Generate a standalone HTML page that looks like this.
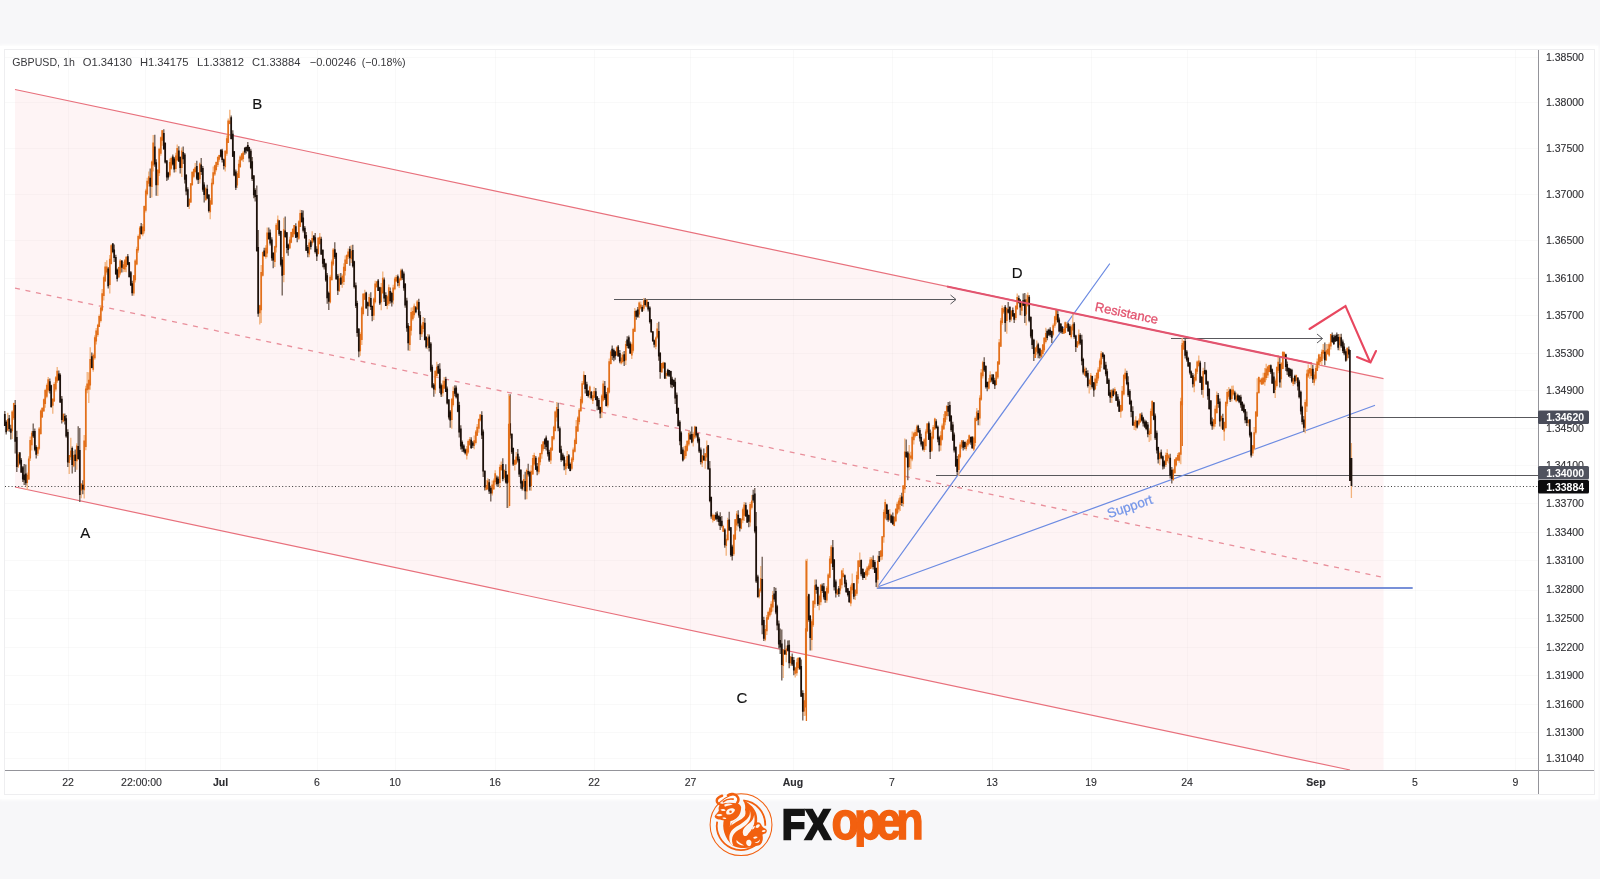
<!DOCTYPE html>
<html><head><meta charset="utf-8"><title>GBPUSD 1h</title>
<style>
html,body{margin:0;padding:0;}
body{width:1600px;height:879px;overflow:hidden;background:#f7f7f9;font-family:"Liberation Sans",sans-serif;position:relative;}
.card{position:absolute;left:0;top:46px;width:1598px;height:753px;background:#fff;box-shadow:0 0 3px 1px rgba(255,255,255,.9);}
.frame{position:absolute;left:4px;top:49px;width:1589px;height:744px;border:1px solid #eeeef0;background:#fff;}
svg{position:absolute;left:0;top:0;will-change:transform;}
text{font-family:"Liberation Sans",sans-serif;}
</style></head><body>
<div class="card"></div><div class="frame"></div>
<svg width="1600" height="879" viewBox="0 0 1600 879">
<g stroke="#000" stroke-opacity="0.024" stroke-width="1" fill="none"><path d="M5 57.5H1538"/><path d="M5 102.5H1538"/><path d="M5 148.5H1538"/><path d="M5 194.5H1538"/><path d="M5 240.5H1538"/><path d="M5 278.5H1538"/><path d="M5 315.5H1538"/><path d="M5 353.5H1538"/><path d="M5 390.5H1538"/><path d="M5 428.5H1538"/><path d="M5 465.5H1538"/><path d="M5 503.5H1538"/><path d="M5 532.5H1538"/><path d="M5 560.5H1538"/><path d="M5 590.5H1538"/><path d="M5 618.5H1538"/><path d="M5 647.5H1538"/><path d="M5 675.5H1538"/><path d="M5 704.5H1538"/><path d="M5 732.5H1538"/><path d="M5 758.5H1538"/><path d="M68.5 50V770"/><path d="M145.5 50V770"/><path d="M220.5 50V770"/><path d="M317.5 50V770"/><path d="M395.5 50V770"/><path d="M495.5 50V770"/><path d="M594.5 50V770"/><path d="M690.5 50V770"/><path d="M793.5 50V770"/><path d="M892.5 50V770"/><path d="M992.5 50V770"/><path d="M1091.5 50V770"/><path d="M1187.5 50V770"/><path d="M1316.5 50V770"/><path d="M1415.5 50V770"/><path d="M1515.5 50V770"/></g>
<!-- channel -->
<polygon points="15,89.5 1383.5,378.7 1383.5,770 1350,770 15,487" fill="#f23645" fill-opacity="0.055"/>
<path d="M15 89.5L1383.5 378.7" stroke="#e8707c" stroke-width="1.2" fill="none"/>
<path d="M15 487L1350 770" stroke="#e8707c" stroke-width="1.2" fill="none"/>
<path d="M15 288.2L1383.5 577.4" stroke="#e98f9b" stroke-width="1.3" stroke-dasharray="5 5.7" fill="none"/>
<!-- price dotted line -->
<path d="M5 486.5H1538" stroke="#3a3a3a" stroke-width="1" stroke-dasharray="1 2.3" fill="none"/>
<!-- horizontal levels -->
<g stroke="#58585c" stroke-width="1" fill="none">
<path d="M936 475.5H1538"/><path d="M1347.5 417.5H1538"/>
<path d="M614 299.5H956"/><path d="M950.5 295L956 299.5L950.5 304"/>
<path d="M1171 338.5H1322.5"/><path d="M1317 334L1322.5 338.5L1317 343"/>
</g>
<!-- blue lines -->
<g stroke="#6c8be2" stroke-width="1.25" fill="none" stroke-linecap="round">
<path d="M877.5 587L1109.5 264"/><path d="M877.5 587L1374.5 405.5"/><path d="M877.5 588H1412" stroke="#7890d8" stroke-width="1.9"/>
</g>
<g fill="none"><path d="M7.8 412.7V431.3M12.2 410.2V438.9M13.8 402.7V420.0M18.2 451.9V467.9M27.2 472.4V490.0M28.8 456.2V480.1M30.2 436.6V461.0M31.8 431.0V450.4M37.8 446.7V456.1M39.2 427.1V450.2M40.8 409.6V434.7M42.2 407.4V417.7M43.8 398.4V411.6M45.2 388.8V407.8M46.8 383.4V398.3M48.2 377.1V392.5M52.8 398.3V413.8M54.2 382.3V401.7M55.8 376.0V391.5M57.2 367.1V383.0M63.2 413.1V422.3M69.2 455.0V474.0M70.8 437.8V460.1M73.8 451.0V467.2M76.8 443.2V469.7M81.2 483.3V498.3M84.2 435.0V498.6M85.8 385.8V450.2M87.2 371.9V393.2M88.8 372.2V402.9M90.2 347.3V389.7M93.2 353.2V371.8M94.8 335.2V359.7M96.2 327.9V344.4M97.8 323.8V336.7M99.2 314.4V327.1M100.8 305.2V322.4M102.2 289.0V311.4M103.8 275.5V300.5M105.2 262.0V281.5M106.8 260.2V274.8M109.8 255.0V293.5M111.2 244.2V264.4M118.8 266.7V277.6M120.2 258.9V275.2M123.2 261.7V272.3M124.8 259.0V272.1M126.2 256.2V272.3M133.8 274.9V295.8M135.2 259.2V282.4M136.8 246.8V265.2M138.2 234.4V252.8M139.8 226.0V239.4M142.8 224.1V236.2M144.2 205.4V233.6M145.8 188.8V212.4M147.2 177.8V195.5M148.8 171.5V186.4M151.8 160.5V197.6M153.2 135.0V171.6M157.8 169.2V196.0M159.2 147.7V176.1M160.8 136.6V155.8M162.2 129.9V145.7M169.8 158.4V177.2M171.2 156.5V169.8M175.8 152.7V172.3M177.2 144.5V161.3M181.8 147.6V176.9M189.2 198.1V209.0M190.8 182.9V203.1M192.2 171.0V185.9M193.8 168.6V178.2M195.2 163.1V173.2M199.8 162.4V183.4M205.8 186.7V200.9M210.2 197.9V219.2M211.8 178.6V205.1M213.2 166.5V185.3M214.8 164.8V176.0M216.2 161.5V171.4M217.8 156.3V167.0M219.2 154.7V161.8M225.2 150.3V171.4M226.8 135.4V155.8M228.2 118.5V143.1M229.8 109.7V124.3M237.2 170.9V188.1M238.8 159.7V178.1M240.2 155.2V168.1M241.8 152.9V160.5M243.2 150.8V162.1M259.8 304.7V324.6M261.2 265.1V322.9M262.8 251.5V276.6M265.8 245.3V258.7M267.2 227.6V257.3M274.8 245.7V267.1M276.2 223.1V252.4M277.8 215.6V230.1M283.8 217.8V282.3M289.8 236.7V248.9M291.2 231.7V243.2M292.8 228.5V237.7M294.2 224.9V235.3M298.8 220.3V239.9M300.2 209.8V227.1M309.2 239.0V257.2M312.2 231.3V245.5M318.2 237.1V254.5M319.8 233.1V244.7M330.2 274.7V303.6M331.8 259.6V280.3M333.2 247.9V266.0M339.2 273.4V291.8M342.2 274.2V287.8M343.8 263.2V285.1M345.2 255.5V275.6M346.8 254.8V264.0M348.2 248.4V259.1M351.2 245.3V262.9M360.2 332.3V355.7M361.8 306.2V345.0M363.2 292.9V315.4M364.8 289.8V300.0M369.2 293.7V307.2M373.8 297.5V320.1M375.2 280.8V303.5M376.8 280.9V287.4M381.2 283.1V310.2M382.8 271.6V293.8M387.2 294.8V309.2M388.8 284.5V305.8M393.2 284.8V304.3M394.8 276.7V290.3M396.2 274.9V281.4M399.2 277.6V287.9M400.8 268.7V280.8M409.8 325.9V350.9M411.2 307.4V335.6M412.8 307.3V320.8M414.2 303.4V317.7M417.2 299.9V309.5M421.8 323.6V337.0M423.2 316.9V332.2M427.8 333.9V349.2M435.2 370.6V393.7M436.8 361.7V378.1M442.8 380.5V396.5M444.2 377.1V389.0M451.8 398.2V428.8M453.2 386.5V406.5M466.8 446.1V459.6M468.2 439.5V453.7M469.8 436.9V445.6M474.2 435.6V449.2M475.8 429.9V444.4M477.2 424.0V435.8M478.8 418.4V432.7M480.2 414.1V421.5M486.2 480.0V490.3M487.8 478.2V490.0M492.2 480.5V495.5M493.8 478.5V490.1M495.2 470.3V484.7M499.8 464.6V488.0M501.2 461.5V470.9M504.2 469.8V480.2M508.8 394.1V507.7M514.8 459.2V470.4M516.2 452.1V464.7M523.8 474.5V490.6M526.8 468.6V499.2M531.2 465.3V490.8M532.8 455.1V474.7M534.2 452.8V465.8M538.8 456.5V474.2M540.2 452.7V465.2M541.8 444.1V458.7M543.2 441.0V451.2M550.8 447.3V464.1M552.2 436.2V450.8M553.8 425.8V440.5M555.2 410.5V431.5M556.8 402.0V421.5M565.8 459.8V475.0M567.2 450.9V468.2M571.8 457.0V470.2M573.2 447.5V462.1M574.8 438.6V452.6M576.2 420.0V444.2M577.8 416.2V432.0M579.2 408.1V424.4M580.8 396.4V411.7M582.2 381.1V404.2M583.8 371.3V384.7M589.8 385.5V398.4M592.8 391.6V404.0M594.2 386.7V398.3M601.8 394.3V417.9M603.2 380.5V401.6M607.8 387.7V407.6M609.2 358.4V393.4M610.8 350.0V364.4M616.8 346.3V355.8M621.2 354.3V364.4M622.8 352.1V363.6M625.8 341.0V365.1M631.8 342.5V358.9M633.2 327.8V352.7M634.8 308.0V332.1M639.2 301.5V318.1M640.8 301.4V309.6M643.8 298.0V310.7M646.8 299.8V307.6M655.8 336.4V349.3M657.2 323.1V338.7M661.8 362.9V373.1M663.2 361.8V368.8M666.2 371.3V379.0M684.2 445.9V459.9M685.8 444.4V458.5M687.2 440.5V451.5M688.8 430.5V446.3M693.2 431.7V446.5M694.8 425.7V439.0M702.2 455.0V467.0M705.2 452.9V468.8M706.8 440.5V461.3M712.8 513.5V522.5M714.2 514.3V520.8M723.2 524.7V532.1M726.2 534.6V555.7M727.8 517.8V541.2M733.8 534.3V556.0M735.2 518.9V539.9M736.8 510.9V530.5M741.2 517.9V529.2M742.8 507.5V523.3M744.2 501.9V521.0M750.2 502.0V526.5M751.8 495.1V509.4M759.2 588.0V598.5M760.8 566.0V592.8M765.2 624.9V641.2M766.8 614.9V635.1M768.2 610.8V619.7M769.8 606.9V617.2M771.2 601.3V614.8M772.8 591.0V611.5M783.2 648.9V678.0M786.2 645.4V662.2M790.8 655.9V666.1M795.2 666.8V677.5M796.8 658.5V675.8M798.2 656.9V669.8M804.2 693.0V715.9M805.8 559.6V715.7M807.2 558.8V632.1M811.8 619.3V650.4M813.2 600.0V627.0M814.8 579.6V607.8M819.2 594.6V610.3M820.8 584.0V605.2M826.8 586.1V602.7M828.2 573.2V593.9M829.8 556.1V578.3M831.2 545.0V563.4M837.2 588.8V594.9M840.2 578.6V594.2M841.8 569.7V588.6M843.2 567.9V577.4M850.8 584.8V606.3M852.2 573.4V593.8M855.2 589.1V600.0M856.8 571.4V595.7M858.2 560.0V583.4M859.8 552.4V567.3M865.8 569.2V579.9M867.2 566.0V576.8M868.8 563.5V574.8M870.2 557.1V569.1M871.8 557.1V569.0M877.8 555.5V587.8M880.8 550.2V560.6M882.2 535.9V559.8M883.8 509.5V542.7M885.2 499.3V519.8M889.8 509.1V520.4M894.2 516.3V526.2M895.8 508.3V522.3M897.2 501.8V514.6M898.8 498.3V512.5M900.2 494.9V511.1M903.2 485.1V506.7M904.8 438.4V493.0M909.2 445.1V470.3M910.8 451.8V469.0M912.2 431.5V461.3M913.8 431.7V444.4M915.2 429.4V437.6M916.8 424.7V436.1M924.2 438.2V452.0M925.8 429.3V449.9M927.2 423.0V433.9M931.8 431.5V452.0M933.2 425.0V439.6M934.8 417.7V429.7M940.8 431.3V450.8M942.2 423.5V440.5M943.8 414.0V429.9M945.2 411.2V425.2M946.8 405.1V419.7M958.8 454.3V476.1M960.2 442.3V458.4M961.8 440.0V449.1M966.2 440.7V450.7M967.8 439.4V446.7M969.2 434.5V444.2M973.8 436.2V450.9M975.2 416.6V446.2M976.8 408.0V421.3M979.8 395.3V425.6M981.2 369.1V400.8M982.8 360.7V378.4M988.8 377.9V389.5M990.2 371.3V383.0M996.2 371.1V385.3M997.8 360.9V379.0M999.2 338.9V364.7M1000.8 318.0V346.8M1002.2 305.4V324.7M1003.8 307.0V314.0M1006.8 307.8V333.8M1011.2 310.0V321.2M1015.8 304.9V320.3M1017.2 293.4V309.7M1021.8 302.3V315.7M1026.2 294.6V325.4M1027.8 292.6V306.8M1035.2 347.3V358.1M1036.8 340.6V355.2M1041.2 349.5V358.3M1042.8 344.0V356.2M1044.2 337.1V351.9M1045.8 327.8V343.6M1053.2 323.4V336.2M1054.8 315.8V327.8M1056.2 308.8V324.2M1063.8 327.9V334.1M1065.2 321.6V333.3M1066.8 322.1V328.2M1071.2 324.8V338.5M1072.8 312.2V334.4M1077.2 341.2V347.9M1078.8 329.5V345.7M1084.8 366.5V375.9M1089.2 378.4V393.4M1090.8 372.9V389.7M1095.2 374.9V390.1M1096.8 372.8V386.1M1098.2 367.3V380.7M1099.8 358.4V372.0M1101.2 351.0V368.0M1111.8 388.9V403.0M1114.8 387.3V394.9M1120.8 404.8V417.8M1122.2 386.0V411.3M1123.8 374.1V395.4M1125.2 368.5V380.6M1134.2 419.8V430.1M1135.8 416.3V430.5M1138.8 418.4V425.7M1140.2 413.0V422.4M1149.2 428.3V442.1M1150.8 408.4V440.5M1152.2 400.2V416.0M1159.8 451.5V465.3M1165.8 452.6V466.9M1167.2 449.3V462.5M1168.8 454.0V463.4M1173.2 468.6V481.1M1174.8 459.2V473.9M1176.2 457.1V466.4M1177.8 452.9V460.7M1179.2 452.3V462.8M1180.8 397.7V464.2M1182.2 338.0V406.3M1183.8 340.2V349.9M1194.2 374.2V392.3M1195.8 368.0V381.6M1197.2 360.5V374.0M1198.8 355.5V367.2M1203.2 367.8V397.8M1213.8 418.9V429.2M1215.2 405.4V426.8M1216.8 391.4V413.8M1221.2 415.7V428.7M1224.2 421.6V440.8M1225.8 401.2V429.3M1227.2 389.1V406.2M1228.8 387.0V398.7M1231.8 385.8V401.4M1233.2 385.5V395.8M1236.2 392.4V402.3M1248.2 419.1V426.4M1252.8 444.9V455.9M1254.2 427.1V450.3M1255.8 411.2V434.5M1257.2 378.3V416.8M1258.8 376.5V393.2M1260.2 378.3V384.3M1261.8 377.4V385.1M1263.2 372.7V384.8M1264.8 367.9V385.7M1266.2 363.8V380.2M1267.8 365.8V377.9M1269.2 364.8V372.3M1275.2 378.6V397.9M1276.8 366.3V387.5M1278.2 355.3V373.3M1281.2 361.9V387.8M1282.8 351.5V369.2M1284.2 351.4V357.8M1293.2 377.4V386.0M1296.2 374.4V382.9M1305.2 399.4V433.3M1306.8 369.7V412.1M1308.2 364.5V378.0M1309.8 368.0V379.1M1311.2 362.3V378.2M1314.2 371.7V385.5M1315.8 365.4V380.6M1317.2 358.4V371.1M1318.8 353.7V368.3M1320.2 354.1V363.7M1321.8 349.5V365.0M1323.2 343.9V358.7M1326.2 344.0V360.8M1327.8 343.9V355.1M1329.2 342.5V356.8M1330.8 334.0V349.5M1339.8 334.0V350.4M1347.2 347.5V360.5M1351.4 443.0V498.0" stroke="#f2b27c" stroke-width="1.3"/><path d="M4.8 411.0V426.1M6.2 420.2V434.4M9.2 415.1V431.8M10.8 424.7V439.5M15.2 400.0V453.6M16.8 430.8V471.9M19.8 452.0V464.7M21.2 458.1V473.0M22.8 466.0V481.9M24.2 463.9V485.0M25.8 464.6V485.4M33.2 423.5V437.9M34.8 428.6V451.3M36.2 445.2V458.4M49.8 378.6V393.6M51.2 384.8V407.8M58.8 370.5V381.0M60.2 373.2V402.9M61.8 396.1V423.6M64.8 413.6V424.4M66.2 414.9V437.7M67.8 429.3V467.0M72.2 446.6V473.6M75.2 449.5V472.1M78.2 426.2V459.8M79.8 427.9V502.1M82.8 480.3V494.3M91.8 352.6V368.2M108.2 267.1V288.6M112.8 243.0V253.3M114.2 244.6V262.1M115.8 254.7V274.6M117.2 268.5V281.6M121.8 260.2V272.6M127.8 254.1V265.2M129.2 261.9V277.3M130.8 270.9V286.0M132.2 280.7V295.8M141.2 223.0V234.7M150.2 168.5V198.0M154.8 134.7V166.8M156.2 159.3V195.7M163.8 129.2V149.7M165.2 142.6V163.5M166.8 160.1V181.0M168.2 171.7V179.7M172.8 154.6V165.4M174.2 157.1V172.5M178.8 146.3V162.0M180.2 156.7V173.6M183.2 146.4V163.9M184.8 153.0V183.6M186.2 174.1V195.3M187.8 187.2V206.9M196.8 160.8V180.3M198.2 172.1V184.1M201.2 157.9V174.9M202.8 166.1V191.8M204.2 182.3V202.4M207.2 184.8V199.2M208.8 194.0V212.5M220.8 149.0V157.5M222.2 148.8V162.6M223.8 158.5V169.4M231.2 115.4V139.6M232.8 130.3V157.1M234.2 150.9V176.2M235.8 169.6V190.0M244.8 147.1V154.8M246.2 146.6V153.5M247.8 142.0V151.8M249.2 146.8V162.3M250.8 148.8V169.2M252.2 156.9V181.0M253.8 175.1V198.2M255.2 188.2V201.6M256.8 185.5V251.5M258.2 230.1V316.7M264.2 247.7V256.6M268.8 227.5V239.4M270.2 229.6V245.6M271.8 237.3V260.8M273.2 251.9V268.2M279.2 220.1V235.9M280.8 230.8V266.5M282.2 257.0V295.5M285.2 216.4V237.4M286.8 232.0V253.3M288.2 243.5V255.8M295.8 223.3V238.0M297.2 232.2V242.2M301.8 210.1V222.8M303.2 210.5V232.4M304.8 226.1V239.1M306.2 232.0V251.1M307.8 245.0V257.3M310.8 240.1V249.5M313.8 235.1V242.4M315.2 233.1V253.6M316.8 246.3V261.0M321.2 236.7V254.9M322.8 249.5V267.3M324.2 258.6V269.4M325.8 262.8V281.7M327.2 273.0V303.8M328.8 291.6V310.0M334.8 242.2V258.9M336.2 252.5V279.8M337.8 273.9V295.1M340.8 273.0V285.0M349.8 246.3V265.8M352.8 244.8V267.6M354.2 260.7V288.6M355.8 282.6V308.1M357.2 300.8V336.7M358.8 328.0V357.2M366.2 291.8V308.6M367.8 301.5V315.9M370.8 292.2V310.0M372.2 305.5V321.2M378.2 279.0V291.0M379.8 286.7V304.9M384.2 277.5V301.9M385.8 292.2V306.1M390.2 287.6V303.4M391.8 291.8V306.4M397.8 274.6V286.3M402.2 268.7V279.9M403.8 271.5V290.7M405.2 283.0V307.7M406.8 297.7V331.7M408.2 323.0V350.6M415.8 306.0V313.3M418.8 298.7V317.8M420.2 311.2V340.0M424.8 318.0V340.4M426.2 336.4V348.6M429.2 334.6V351.4M430.8 342.0V372.1M432.2 364.8V388.3M433.8 383.1V396.7M438.2 364.0V374.0M439.8 363.2V392.9M441.2 383.5V397.0M445.8 376.7V392.1M447.2 386.4V404.5M448.8 399.1V419.5M450.2 409.9V427.8M454.8 385.3V396.3M456.2 385.4V398.6M457.8 392.7V412.3M459.2 401.7V437.6M460.8 425.2V449.5M462.2 440.5V452.1M463.8 444.2V452.6M465.2 448.6V454.4M471.2 437.3V448.9M472.8 441.1V448.0M481.8 411.2V439.1M483.2 429.5V477.0M484.8 470.6V490.4M489.2 479.1V494.1M490.8 485.8V501.4M496.8 475.4V485.8M498.2 476.5V486.9M502.8 458.3V481.2M505.8 464.3V483.6M507.2 474.4V507.9M510.2 394.2V438.4M511.8 433.5V454.0M513.2 447.6V466.0M517.8 449.0V462.6M519.2 456.6V477.1M520.8 469.2V488.7M522.2 480.5V490.6M525.2 471.7V499.4M528.2 463.7V476.6M529.8 470.8V490.4M535.8 455.9V469.9M537.2 463.0V475.3M544.8 438.2V449.0M546.2 435.5V450.4M547.8 440.2V456.6M549.2 449.8V462.1M558.2 402.7V431.2M559.8 426.5V453.1M561.2 445.8V461.7M562.8 452.7V460.7M564.2 455.6V470.2M568.8 454.1V468.9M570.2 462.6V471.3M585.2 374.9V393.6M586.8 381.7V396.1M588.2 390.2V397.4M591.2 391.1V399.6M595.8 388.1V400.3M597.2 396.1V410.2M598.8 397.9V409.8M600.2 406.7V418.2M604.8 381.1V399.9M606.2 391.9V406.6M612.2 345.6V359.9M613.8 348.6V361.3M615.2 350.8V359.7M618.2 345.0V357.0M619.8 349.9V363.3M624.2 350.9V366.0M627.2 336.3V348.3M628.8 335.6V349.0M630.2 341.4V354.1M636.2 309.8V319.8M637.8 306.9V317.8M642.2 305.2V311.9M645.2 298.0V306.6M648.2 301.7V311.5M649.8 306.3V323.6M651.2 318.9V333.1M652.8 331.2V341.9M654.2 339.6V347.5M658.8 321.7V360.8M660.2 351.9V378.8M664.8 362.1V379.0M667.8 368.7V376.6M669.2 370.0V376.9M670.8 370.8V387.5M672.2 376.7V388.3M673.8 379.7V386.9M675.2 377.8V404.1M676.8 392.6V414.1M678.2 407.6V426.6M679.8 420.2V445.3M681.2 431.2V454.2M682.8 447.2V461.5M690.2 431.5V439.6M691.8 426.5V443.3M696.2 426.7V437.4M697.8 433.1V443.3M699.2 437.2V453.0M700.8 447.4V464.6M703.8 448.4V460.5M708.2 444.9V469.8M709.8 460.9V502.2M711.2 496.5V518.7M715.8 512.3V520.0M717.2 511.3V521.7M718.8 515.3V525.4M720.2 512.3V530.1M721.8 516.1V527.5M724.8 528.2V547.8M729.2 511.7V530.7M730.8 527.0V556.8M732.2 544.8V560.4M738.2 510.3V526.6M739.8 517.9V531.6M745.8 502.5V516.5M747.2 509.2V523.1M748.8 514.5V527.3M753.2 489.8V502.8M754.8 488.1V533.2M756.2 512.0V582.9M757.8 574.8V597.7M762.2 556.8V634.2M763.8 616.7V641.0M774.2 586.9V601.8M775.8 587.8V614.3M777.2 604.8V630.2M778.8 620.5V648.5M780.2 628.5V653.9M781.8 629.4V680.5M784.8 639.5V655.0M787.8 640.6V651.2M789.2 640.3V668.3M792.2 653.4V666.0M793.8 657.1V675.3M799.8 657.3V670.0M801.2 659.4V696.8M802.8 690.3V720.4M808.8 593.8V621.7M810.2 615.1V650.4M816.2 579.6V593.7M817.8 586.5V605.9M822.2 583.6V592.9M823.8 583.0V599.5M825.2 591.3V602.8M832.8 540.1V569.9M834.2 559.0V590.5M835.8 579.6V597.4M838.8 586.0V596.8M844.8 574.5V587.3M846.2 579.7V593.1M847.8 588.0V596.6M849.2 590.8V603.1M853.8 583.0V599.3M861.2 559.4V576.2M862.8 568.2V580.0M864.2 572.2V578.0M873.2 555.4V569.4M874.8 560.1V573.1M876.2 567.6V586.9M879.2 551.1V562.1M886.8 503.7V520.3M888.2 509.6V521.8M891.2 514.4V523.2M892.8 512.4V524.4M901.8 492.7V506.0M906.2 439.5V457.7M907.8 451.2V480.2M918.2 424.8V432.7M919.8 428.1V441.6M921.2 433.7V446.6M922.8 441.0V450.5M928.8 421.5V440.0M930.2 429.4V458.9M936.2 419.2V428.6M937.8 425.4V442.2M939.2 435.7V451.5M948.2 402.1V416.3M949.8 401.4V421.9M951.2 415.6V432.1M952.8 421.7V440.9M954.2 432.5V452.4M955.8 446.7V466.9M957.2 455.9V475.3M963.2 440.1V450.6M964.8 441.4V449.3M970.8 436.5V444.7M972.2 436.1V448.7M978.2 410.2V425.3M984.2 357.2V371.9M985.8 365.3V388.4M987.2 381.4V391.3M991.8 374.3V382.2M993.2 374.2V384.2M994.8 377.7V389.1M1005.2 305.1V331.7M1008.2 302.1V313.4M1009.8 306.5V322.3M1012.8 307.6V316.5M1014.2 313.2V323.0M1018.8 295.5V303.5M1020.2 298.9V315.2M1023.2 293.6V306.0M1024.8 293.1V323.1M1029.2 295.0V322.2M1030.8 316.3V338.3M1032.2 329.3V349.0M1033.8 338.7V360.9M1038.2 342.7V358.3M1039.8 347.7V358.6M1047.2 329.4V340.2M1048.8 328.8V336.1M1050.2 327.3V336.8M1051.8 330.7V343.1M1057.8 309.1V322.8M1059.2 317.5V332.5M1060.8 322.9V333.0M1062.2 326.3V334.1M1068.2 322.4V331.9M1069.8 324.2V335.3M1074.2 322.1V338.8M1075.8 334.8V352.0M1080.2 333.2V345.1M1081.8 334.7V365.2M1083.2 357.8V374.6M1086.2 367.7V377.8M1087.8 370.2V387.4M1092.2 375.8V388.5M1093.8 382.2V396.7M1102.8 352.0V358.7M1104.2 354.6V369.9M1105.8 361.7V376.3M1107.2 368.8V384.0M1108.8 378.2V396.0M1110.2 389.8V402.8M1113.2 388.5V396.5M1116.2 391.0V401.0M1117.8 394.0V407.0M1119.2 399.2V411.9M1126.8 370.7V385.3M1128.2 376.2V396.9M1129.8 389.3V405.0M1131.2 399.7V417.2M1132.8 406.2V425.8M1137.2 420.2V428.4M1141.8 412.4V421.5M1143.2 416.8V426.6M1144.8 419.4V427.9M1146.2 420.6V430.3M1147.8 421.9V437.3M1153.8 402.3V420.2M1155.2 413.6V440.0M1156.8 430.6V453.5M1158.2 446.7V463.6M1161.2 449.4V459.3M1162.8 455.6V469.6M1164.2 460.2V468.8M1170.2 453.8V478.5M1171.8 466.9V483.4M1185.2 338.1V358.4M1186.8 349.9V361.7M1188.2 356.8V366.8M1189.8 361.9V374.6M1191.2 370.5V378.0M1192.8 373.1V387.5M1200.2 360.8V383.1M1201.8 375.9V394.8M1204.8 362.0V374.3M1206.2 369.8V385.1M1207.8 380.7V399.8M1209.2 388.6V409.8M1210.8 399.9V425.5M1212.2 417.6V429.8M1218.2 392.9V407.8M1219.8 398.5V426.5M1222.8 413.8V430.1M1230.2 388.8V401.9M1234.8 390.7V400.3M1237.8 393.7V401.2M1239.2 395.6V403.2M1240.8 394.8V407.7M1242.2 401.3V410.9M1243.8 403.6V413.2M1245.2 408.9V423.2M1246.8 411.6V425.9M1249.8 419.1V437.6M1251.2 431.8V457.4M1270.8 364.5V373.9M1272.2 368.4V384.0M1273.8 372.2V393.3M1279.8 355.9V387.4M1285.8 353.8V371.0M1287.2 361.5V375.1M1288.8 367.6V377.0M1290.2 368.2V378.1M1291.8 368.7V382.7M1294.8 374.8V384.3M1297.8 376.9V390.6M1299.2 379.7V398.6M1300.8 390.4V414.6M1302.2 405.8V424.6M1303.8 416.0V431.9M1312.8 364.8V383.0M1324.8 342.5V365.2M1332.2 332.4V343.0M1333.8 334.7V345.1M1335.2 334.4V341.9M1336.8 332.5V341.5M1338.2 334.1V350.3M1341.2 333.8V347.7M1342.8 339.5V352.9M1344.2 343.3V355.2M1345.8 349.2V361.7M1348.8 346.6V358.2" stroke="#6b5a50" stroke-width="1.3"/><path d="M7.8 419.1V430.6M12.2 411.6V431.3M13.8 403.0V418.2M18.2 454.2V466.6M27.2 474.8V482.9M28.8 458.6V479.5M30.2 440.0V458.6M31.8 432.8V445.3M37.8 447.3V453.7M39.2 428.5V448.7M40.8 410.6V434.1M42.2 407.8V417.6M43.8 399.3V411.6M45.2 389.9V404.0M46.8 384.9V396.7M48.2 379.3V390.5M52.8 398.7V405.8M54.2 384.1V401.6M55.8 377.3V389.5M57.2 370.7V381.3M63.2 413.9V421.5M69.2 455.1V462.9M70.8 450.5V457.3M73.8 455.1V466.3M76.8 445.4V461.2M81.2 483.6V490.6M84.2 440.4V490.3M85.8 388.6V447.1M87.2 383.5V390.3M88.8 379.8V389.4M90.2 359.1V385.5M93.2 354.8V369.8M94.8 337.2V358.2M96.2 330.5V341.6M97.8 324.7V334.9M99.2 316.0V327.0M100.8 307.5V321.0M102.2 293.3V310.6M103.8 277.3V296.1M105.2 266.6V281.4M106.8 266.4V272.4M109.8 258.7V285.0M111.2 245.3V264.0M118.8 267.1V277.6M120.2 260.4V273.6M123.2 264.2V269.1M124.8 260.3V269.4M126.2 256.8V267.0M133.8 275.2V293.4M135.2 260.6V280.3M136.8 249.0V264.4M138.2 236.0V250.5M139.8 227.6V238.8M142.8 226.4V234.2M144.2 205.9V231.2M145.8 190.5V210.7M147.2 180.8V194.3M148.8 176.3V183.7M151.8 161.6V187.0M153.2 142.6V165.4M157.8 169.7V185.3M159.2 148.8V173.2M160.8 137.3V153.8M162.2 130.2V140.7M169.8 162.1V175.6M171.2 158.0V168.7M175.8 155.5V168.9M177.2 148.0V160.2M181.8 150.6V168.0M189.2 198.9V205.6M190.8 183.3V202.4M192.2 172.1V185.0M193.8 168.9V176.8M195.2 167.2V172.0M199.8 163.5V179.2M205.8 188.2V200.1M210.2 200.2V212.3M211.8 182.7V204.4M213.2 172.3V183.9M214.8 165.2V174.4M216.2 161.9V169.9M217.8 156.9V165.0M219.2 154.9V159.8M225.2 150.7V167.3M226.8 138.2V153.8M228.2 120.4V142.9M229.8 120.5V124.1M237.2 173.2V185.4M238.8 163.8V177.9M240.2 156.5V167.1M241.8 153.4V160.2M243.2 152.5V159.1M259.8 305.3V313.2M261.2 272.0V310.2M262.8 251.9V275.8M265.8 247.8V256.9M267.2 232.6V253.4M274.8 246.2V262.0M276.2 224.7V247.6M277.8 219.4V229.9M283.8 229.3V275.0M289.8 239.6V248.3M291.2 232.0V242.8M292.8 228.8V236.9M294.2 225.0V234.1M298.8 221.3V238.8M300.2 213.1V227.0M309.2 242.4V254.6M312.2 237.9V243.3M318.2 237.8V253.9M319.8 236.7V244.0M330.2 276.7V302.4M331.8 261.4V280.3M333.2 249.5V264.6M339.2 278.2V291.2M342.2 275.8V283.4M343.8 266.8V281.9M345.2 259.4V271.0M346.8 254.8V263.9M348.2 251.5V256.8M351.2 250.8V259.3M360.2 334.1V351.2M361.8 307.6V340.1M363.2 293.7V314.0M364.8 293.2V299.7M369.2 297.1V305.9M373.8 298.6V315.8M375.2 283.6V302.2M376.8 281.6V287.2M381.2 287.2V302.2M382.8 277.7V293.3M387.2 296.2V305.3M388.8 287.3V303.8M393.2 287.6V300.4M394.8 278.4V289.3M396.2 277.1V281.4M399.2 278.4V285.7M400.8 270.6V280.2M409.8 326.0V344.9M411.2 312.1V330.8M412.8 311.1V319.2M414.2 305.8V315.2M417.2 301.5V309.4M421.8 325.4V334.2M423.2 321.9V329.0M427.8 337.8V345.7M435.2 370.8V390.3M436.8 366.8V376.1M442.8 384.8V393.3M444.2 380.7V388.6M451.8 398.7V420.0M453.2 390.9V404.9M466.8 448.8V455.8M468.2 441.0V452.5M469.8 439.0V445.3M474.2 440.3V446.0M475.8 431.6V443.1M477.2 426.7V435.7M478.8 418.9V428.8M480.2 414.5V420.6M486.2 484.9V489.8M487.8 480.4V489.3M492.2 484.6V493.6M493.8 480.4V489.2M495.2 473.2V482.2M499.8 467.1V483.0M501.2 465.1V470.1M504.2 469.8V477.7M508.8 423.8V482.6M514.8 460.1V464.9M516.2 456.6V463.7M523.8 479.0V487.1M526.8 470.0V491.4M531.2 470.7V486.1M532.8 458.1V474.5M534.2 455.1V464.4M538.8 457.6V472.3M540.2 452.9V462.3M541.8 444.6V454.2M543.2 441.4V449.3M550.8 447.8V460.5M552.2 436.3V450.5M553.8 426.7V439.3M555.2 411.6V430.9M556.8 406.9V417.4M565.8 463.2V469.2M567.2 456.0V465.9M571.8 458.6V468.8M573.2 449.6V460.2M574.8 439.9V451.8M576.2 426.3V443.9M577.8 417.4V431.4M579.2 409.7V422.1M580.8 399.0V411.2M582.2 383.3V402.8M583.8 374.8V384.4M589.8 386.5V395.1M592.8 395.3V400.9M594.2 391.1V397.8M601.8 395.5V412.0M603.2 383.5V400.6M607.8 387.8V405.6M609.2 361.3V392.4M610.8 351.6V364.1M616.8 347.2V355.4M621.2 357.6V363.2M622.8 354.8V362.0M625.8 344.0V360.6M631.8 344.2V355.6M633.2 329.0V350.7M634.8 311.0V331.8M639.2 302.4V314.5M640.8 304.5V308.6M643.8 300.6V308.7M646.8 299.8V306.7M655.8 337.5V346.7M657.2 328.6V337.4M661.8 363.1V372.2M663.2 362.6V368.3M666.2 373.0V376.1M684.2 450.5V458.8M685.8 445.9V456.1M687.2 440.7V450.7M688.8 433.0V444.4M693.2 433.7V441.5M694.8 426.6V437.5M702.2 455.6V463.3M705.2 453.3V461.1M706.8 446.5V457.6M712.8 514.9V520.1M714.2 515.0V520.7M723.2 525.9V531.8M726.2 538.8V545.9M727.8 520.1V540.0M733.8 534.8V554.3M735.2 519.2V539.4M736.8 513.5V525.4M741.2 519.1V528.8M742.8 509.2V520.2M744.2 504.5V515.7M750.2 504.1V522.6M751.8 500.6V507.8M759.2 589.4V596.4M760.8 578.3V591.3M765.2 629.1V639.8M766.8 617.3V631.3M768.2 611.9V619.5M769.8 608.2V615.6M771.2 603.7V612.3M772.8 595.1V607.4M783.2 649.6V665.9M786.2 648.6V655.1M790.8 656.5V663.3M795.2 667.5V673.7M796.8 662.3V673.3M798.2 658.1V667.9M804.2 700.3V711.6M805.8 628.3V707.5M807.2 596.2V631.2M811.8 621.2V639.9M813.2 601.1V625.2M814.8 585.2V604.3M819.2 595.8V604.7M820.8 584.8V602.3M826.8 587.8V600.6M828.2 574.5V592.7M829.8 558.6V577.8M831.2 546.8V563.4M837.2 589.4V594.5M840.2 579.2V590.7M841.8 570.6V585.2M843.2 573.3V577.1M850.8 586.7V603.4M852.2 583.3V590.3M855.2 589.9V596.1M856.8 575.1V593.8M858.2 560.5V579.2M859.8 560.2V567.0M865.8 570.8V575.3M867.2 567.6V575.4M868.8 565.5V570.4M870.2 559.5V568.9M871.8 558.7V567.6M877.8 560.8V579.8M880.8 550.5V557.1M882.2 536.3V556.4M883.8 512.1V537.2M885.2 502.1V518.5M889.8 513.8V520.2M894.2 516.8V526.1M895.8 508.8V521.3M897.2 503.8V513.5M898.8 500.5V509.5M900.2 497.6V504.9M903.2 485.4V504.1M904.8 451.5V489.2M909.2 453.4V466.9M910.8 455.4V458.4M912.2 436.7V459.4M913.8 433.3V440.3M915.2 431.9V436.3M916.8 426.5V435.9M924.2 439.4V449.9M925.8 431.6V446.3M927.2 423.5V432.5M931.8 436.4V450.7M933.2 427.1V438.5M934.8 418.4V429.5M940.8 435.2V445.5M942.2 425.6V439.7M943.8 418.0V429.2M945.2 411.3V422.2M946.8 406.0V416.1M958.8 454.4V469.9M960.2 444.6V457.2M961.8 440.3V447.3M966.2 442.7V448.9M967.8 439.6V445.3M969.2 435.2V443.6M973.8 437.6V449.4M975.2 418.1V443.1M976.8 411.5V421.1M979.8 397.7V418.6M981.2 372.5V399.8M982.8 362.3V376.3M988.8 381.5V388.7M990.2 374.7V381.9M996.2 372.1V385.1M997.8 361.5V377.4M999.2 342.3V364.6M1000.8 320.5V346.7M1002.2 308.1V323.1M1003.8 308.6V312.4M1006.8 307.8V321.1M1011.2 310.7V319.4M1015.8 305.9V317.9M1017.2 296.9V309.2M1021.8 302.9V310.8M1026.2 299.3V314.4M1027.8 295.2V305.8M1035.2 347.5V357.9M1036.8 345.5V351.8M1041.2 350.1V357.2M1042.8 344.5V354.0M1044.2 337.8V350.2M1045.8 332.9V342.0M1053.2 325.3V334.8M1054.8 316.3V325.8M1056.2 310.0V320.2M1063.8 328.7V333.8M1065.2 322.2V332.9M1066.8 324.2V327.9M1071.2 326.6V337.1M1072.8 324.3V330.4M1077.2 341.3V347.5M1078.8 334.6V344.3M1084.8 368.7V375.5M1089.2 379.7V384.3M1090.8 375.2V384.8M1095.2 378.5V389.3M1096.8 372.8V383.2M1098.2 369.5V378.6M1099.8 360.6V371.4M1101.2 353.2V364.4M1111.8 390.1V398.1M1114.8 388.9V394.2M1120.8 405.0V411.7M1122.2 390.8V410.4M1123.8 374.9V394.6M1125.2 372.7V378.8M1134.2 421.8V426.1M1135.8 420.3V427.5M1138.8 420.2V424.4M1140.2 413.8V422.4M1149.2 430.6V435.0M1150.8 411.1V434.1M1152.2 401.1V415.8M1159.8 452.9V459.1M1165.8 454.9V464.9M1167.2 453.0V460.9M1168.8 455.3V458.4M1173.2 469.6V480.1M1174.8 459.3V472.9M1176.2 457.6V465.6M1177.8 454.9V460.4M1179.2 452.5V460.8M1180.8 401.2V454.8M1182.2 345.1V405.1M1183.8 341.0V349.4M1194.2 377.0V386.6M1195.8 369.0V380.5M1197.2 361.4V371.7M1198.8 360.6V366.0M1203.2 371.1V389.8M1213.8 419.3V426.5M1215.2 408.8V424.1M1216.8 394.9V412.9M1221.2 415.8V420.6M1224.2 422.1V431.6M1225.8 401.9V427.9M1227.2 392.1V403.8M1228.8 390.8V396.8M1231.8 389.4V399.1M1233.2 389.4V394.4M1236.2 395.6V401.3M1248.2 419.9V423.3M1252.8 445.2V453.4M1254.2 432.2V448.7M1255.8 411.5V432.7M1257.2 392.2V416.4M1258.8 376.9V393.2M1260.2 379.7V382.2M1261.8 378.5V384.5M1263.2 377.6V383.7M1264.8 372.7V382.3M1266.2 368.4V378.0M1267.8 366.5V375.5M1269.2 365.0V372.1M1275.2 380.5V390.1M1276.8 366.9V386.1M1278.2 361.7V370.7M1281.2 363.2V379.3M1282.8 351.8V369.0M1284.2 352.3V357.4M1293.2 378.1V384.0M1296.2 375.0V380.8M1305.2 402.0V428.4M1306.8 373.6V406.5M1308.2 369.5V376.5M1309.8 368.0V373.5M1311.2 368.7V375.9M1314.2 374.5V382.7M1315.8 368.1V378.7M1317.2 361.5V371.0M1318.8 354.4V365.1M1320.2 356.8V362.1M1321.8 351.8V361.1M1323.2 350.0V353.8M1326.2 350.3V360.5M1327.8 348.7V353.9M1329.2 344.3V355.4M1330.8 334.0V346.4M1339.8 336.7V345.3M1347.2 347.7V358.2" stroke="#e2701c" stroke-width="1.7"/><path d="M4.8 414.0V426.0M6.2 421.7V432.2M9.2 418.3V429.1M10.8 428.6V432.8M15.2 404.9V441.8M16.8 436.9V467.1M19.8 452.6V463.6M21.2 459.7V472.6M22.8 467.3V479.5M24.2 474.6V480.2M25.8 473.5V483.3M33.2 431.0V436.5M34.8 431.1V449.8M36.2 447.0V454.7M49.8 381.2V391.1M51.2 385.3V407.0M58.8 373.4V380.0M60.2 374.8V402.4M61.8 398.8V419.9M64.8 416.0V420.8M66.2 418.2V436.5M67.8 432.0V462.5M72.2 447.9V465.1M75.2 454.6V461.0M78.2 445.9V458.9M79.8 450.0V494.9M82.8 484.7V489.5M91.8 356.3V368.0M108.2 268.5V286.2M112.8 243.6V251.9M114.2 249.6V258.1M115.8 257.0V274.4M117.2 269.5V278.9M121.8 260.4V267.8M127.8 256.3V264.8M129.2 262.3V277.3M130.8 272.2V285.5M132.2 283.2V293.3M141.2 226.3V234.0M150.2 177.7V186.6M154.8 146.4V164.4M156.2 162.2V185.2M163.8 132.9V149.3M165.2 142.8V162.6M166.8 160.6V177.6M168.2 172.5V177.5M172.8 156.6V164.5M174.2 158.4V169.6M178.8 150.5V161.5M180.2 156.7V167.9M183.2 152.1V159.2M184.8 154.4V179.7M186.2 175.0V191.4M187.8 189.3V206.8M196.8 166.1V178.7M198.2 172.8V180.1M201.2 164.5V172.0M202.8 167.9V189.8M204.2 184.5V195.1M207.2 188.8V198.4M208.8 194.8V211.0M220.8 150.0V156.8M222.2 150.5V160.1M223.8 159.2V166.0M231.2 117.3V139.0M232.8 133.8V156.8M234.2 151.2V175.4M235.8 171.4V187.8M244.8 147.9V152.5M246.2 147.0V150.7M247.8 144.9V151.0M249.2 146.9V158.6M250.8 150.7V168.0M252.2 161.3V179.0M253.8 175.4V195.2M255.2 189.9V196.9M256.8 194.9V251.2M258.2 247.1V313.7M264.2 250.4V256.3M268.8 232.6V239.3M270.2 232.4V243.4M271.8 239.5V258.3M273.2 253.1V260.5M279.2 220.4V234.3M280.8 230.9V264.7M282.2 259.4V275.8M285.2 230.5V237.2M286.8 232.2V248.0M288.2 244.4V250.1M295.8 226.2V237.8M297.2 232.3V237.3M301.8 212.8V222.0M303.2 217.6V230.8M304.8 227.7V238.1M306.2 235.0V250.8M307.8 246.9V253.3M310.8 241.5V247.0M313.8 235.8V240.5M315.2 237.2V251.9M316.8 248.7V256.6M321.2 238.7V254.5M322.8 249.8V263.8M324.2 259.1V267.3M325.8 263.6V280.4M327.2 275.2V298.2M328.8 292.8V301.7M334.8 249.2V257.2M336.2 253.1V279.2M337.8 275.8V290.8M340.8 277.4V284.4M349.8 248.9V258.2M352.8 250.1V266.3M354.2 261.3V286.9M355.8 285.3V306.1M357.2 303.1V332.9M358.8 328.8V351.4M366.2 292.5V308.5M367.8 302.3V306.3M370.8 297.9V307.1M372.2 305.9V316.1M378.2 280.5V291.0M379.8 287.3V303.4M384.2 279.5V298.6M385.8 294.9V305.9M390.2 290.9V301.3M391.8 293.1V302.6M397.8 276.2V283.0M402.2 270.2V278.3M403.8 273.4V288.2M405.2 283.8V305.4M406.8 300.6V328.3M408.2 325.5V343.3M415.8 307.3V312.2M418.8 301.9V315.6M420.2 315.0V334.2M424.8 322.7V339.9M426.2 336.8V347.3M429.2 336.5V348.1M430.8 343.5V370.4M432.2 366.7V387.6M433.8 384.4V389.6M438.2 365.8V373.4M439.8 368.7V388.4M441.2 385.2V394.5M445.8 378.9V392.0M447.2 388.6V403.5M448.8 399.6V417.5M450.2 411.5V420.4M454.8 388.3V393.8M456.2 387.6V397.2M457.8 394.1V411.8M459.2 405.1V432.5M460.8 428.5V446.6M462.2 442.0V448.8M463.8 445.6V451.4M465.2 449.4V453.2M471.2 439.8V447.9M472.8 442.4V445.7M481.8 415.0V435.6M483.2 431.5V471.5M484.8 470.7V487.5M489.2 482.2V491.4M490.8 487.8V493.4M496.8 477.4V483.9M498.2 478.7V483.7M502.8 463.9V479.0M505.8 470.9V482.5M507.2 474.7V483.6M510.2 423.3V435.4M511.8 433.8V452.3M513.2 448.1V464.4M517.8 453.8V460.6M519.2 459.0V474.5M520.8 469.8V483.4M522.2 481.3V488.8M525.2 481.0V491.2M528.2 471.0V474.4M529.8 471.9V487.0M535.8 457.8V469.8M537.2 466.2V471.5M544.8 439.3V444.5M546.2 437.5V447.0M547.8 440.7V454.3M549.2 452.0V460.6M558.2 409.0V428.2M559.8 428.3V452.6M561.2 449.2V460.1M562.8 454.4V459.9M564.2 457.0V466.3M568.8 455.3V468.4M570.2 464.0V471.0M585.2 375.1V388.9M586.8 384.2V395.9M588.2 390.7V395.9M591.2 391.7V398.0M595.8 391.2V400.0M597.2 396.6V406.3M598.8 400.1V409.7M600.2 407.1V413.6M604.8 386.0V398.3M606.2 394.3V406.0M612.2 348.8V355.9M613.8 350.0V357.8M615.2 351.5V356.3M618.2 346.6V356.2M619.8 353.1V361.6M624.2 354.3V361.2M627.2 339.6V346.0M628.8 337.2V348.0M630.2 343.5V353.5M636.2 311.0V316.8M637.8 309.6V316.7M642.2 306.9V311.4M645.2 299.9V305.1M648.2 302.0V309.4M649.8 307.5V322.0M651.2 319.6V331.9M652.8 331.3V341.1M654.2 340.3V344.8M658.8 331.1V356.4M660.2 352.9V372.1M664.8 363.1V378.6M667.8 369.8V375.4M669.2 370.1V375.8M670.8 370.9V384.4M672.2 378.7V384.9M673.8 379.8V386.5M675.2 381.8V398.5M676.8 394.8V413.5M678.2 408.1V425.9M679.8 421.8V441.2M681.2 432.4V454.1M682.8 449.4V460.6M690.2 434.4V439.4M691.8 434.0V442.4M696.2 426.8V435.6M697.8 433.3V441.5M699.2 438.7V451.5M700.8 449.4V461.9M703.8 455.7V460.4M708.2 445.2V469.2M709.8 468.2V501.0M711.2 496.9V516.4M715.8 514.9V518.8M717.2 513.6V519.2M718.8 516.0V522.1M720.2 516.9V526.1M721.8 520.7V526.1M724.8 529.4V545.3M729.2 519.6V530.6M730.8 527.3V555.3M732.2 546.5V556.0M738.2 514.8V523.6M739.8 518.3V528.2M745.8 505.1V516.4M747.2 510.3V522.6M748.8 515.1V521.8M753.2 494.8V500.5M754.8 493.6V531.5M756.2 526.2V581.6M757.8 576.6V596.9M762.2 579.0V625.3M763.8 619.9V638.8M774.2 593.6V599.5M775.8 590.9V612.5M777.2 606.2V625.5M778.8 623.5V644.5M780.2 640.1V647.6M781.8 643.5V665.1M784.8 650.2V654.2M787.8 645.2V650.8M789.2 644.7V663.2M792.2 656.9V664.4M793.8 660.1V670.4M799.8 657.7V669.1M801.2 665.9V696.7M802.8 693.0V711.8M808.8 594.2V619.9M810.2 615.8V638.0M816.2 584.4V590.1M817.8 587.0V604.3M822.2 585.4V590.9M823.8 586.3V597.2M825.2 591.4V600.1M832.8 547.3V566.9M834.2 559.5V587.2M835.8 581.4V593.5M838.8 588.3V593.9M844.8 575.2V583.7M846.2 582.4V592.0M847.8 588.2V595.0M849.2 591.0V601.9M853.8 583.3V596.7M861.2 560.1V574.2M862.8 569.0V577.7M864.2 572.3V577.9M873.2 560.1V567.0M874.8 562.1V572.9M876.2 567.9V582.4M879.2 555.9V561.8M886.8 504.4V514.1M888.2 509.9V519.7M891.2 515.5V522.7M892.8 516.3V524.4M901.8 496.5V502.9M906.2 451.8V457.2M907.8 452.6V467.4M918.2 425.8V432.3M919.8 429.9V438.5M921.2 437.1V444.6M922.8 441.7V449.6M928.8 423.3V439.8M930.2 433.1V452.0M936.2 421.3V428.2M937.8 426.8V439.5M939.2 437.3V445.2M948.2 406.1V411.8M949.8 404.9V421.1M951.2 415.6V430.3M952.8 424.6V440.5M954.2 434.6V450.4M955.8 446.7V466.3M957.2 458.9V471.9M963.2 441.6V447.8M964.8 442.1V446.9M970.8 437.0V442.4M972.2 437.0V448.3M978.2 413.1V419.8M984.2 361.9V370.5M985.8 365.9V386.9M987.2 382.0V387.3M991.8 377.6V380.6M993.2 374.4V383.9M994.8 380.3V385.6M1005.2 306.8V322.9M1008.2 309.2V312.8M1009.8 306.8V319.7M1012.8 310.1V316.4M1014.2 313.3V319.8M1018.8 297.9V303.1M1020.2 300.2V307.4M1023.2 300.2V305.8M1024.8 299.6V316.1M1029.2 296.8V320.8M1030.8 317.1V336.6M1032.2 329.7V345.0M1033.8 339.8V354.1M1038.2 344.3V353.4M1039.8 348.6V355.7M1047.2 331.1V338.0M1048.8 329.8V334.8M1050.2 329.8V335.1M1051.8 330.9V337.7M1057.8 313.9V321.9M1059.2 319.6V331.5M1060.8 323.7V331.6M1062.2 326.6V332.2M1068.2 323.5V331.3M1069.8 326.3V335.0M1074.2 323.6V336.9M1075.8 335.5V347.1M1080.2 335.0V343.6M1081.8 339.5V361.3M1083.2 359.0V372.4M1086.2 371.1V376.6M1087.8 372.9V386.1M1092.2 376.0V387.1M1093.8 382.3V390.5M1102.8 353.3V356.9M1104.2 354.7V369.0M1105.8 364.8V374.2M1107.2 371.2V383.7M1108.8 379.8V395.4M1110.2 392.3V397.5M1113.2 390.5V395.9M1116.2 391.7V400.8M1117.8 396.5V405.8M1119.2 401.3V411.7M1126.8 373.0V383.9M1128.2 382.3V395.2M1129.8 391.0V404.0M1131.2 401.0V412.1M1132.8 411.1V425.6M1137.2 421.0V427.4M1141.8 414.8V420.5M1143.2 417.6V423.6M1144.8 421.6V426.8M1146.2 421.6V429.1M1147.8 424.6V434.3M1153.8 402.3V419.8M1155.2 415.5V438.3M1156.8 432.7V450.6M1158.2 447.0V459.6M1161.2 452.2V458.2M1162.8 456.3V466.6M1164.2 461.3V466.5M1170.2 457.7V476.1M1171.8 469.7V479.0M1185.2 341.0V355.7M1186.8 351.5V360.3M1188.2 357.9V366.5M1189.8 362.6V372.7M1191.2 371.5V377.9M1192.8 375.2V384.3M1200.2 362.4V382.7M1201.8 376.8V390.0M1204.8 370.1V374.2M1206.2 370.5V384.3M1207.8 381.5V396.3M1209.2 388.7V409.1M1210.8 400.6V424.0M1212.2 421.4V426.3M1218.2 395.0V404.1M1219.8 401.4V421.5M1222.8 417.9V429.4M1230.2 389.5V399.8M1234.8 392.6V399.4M1237.8 395.2V400.6M1239.2 395.6V402.2M1240.8 396.7V405.3M1242.2 401.9V410.7M1243.8 404.8V412.1M1245.2 409.3V420.2M1246.8 416.8V423.0M1249.8 419.4V435.4M1251.2 432.6V455.5M1270.8 365.3V372.2M1272.2 369.3V383.4M1273.8 376.6V393.0M1279.8 364.1V382.6M1285.8 354.3V367.0M1287.2 364.0V371.5M1288.8 368.0V376.3M1290.2 369.1V376.0M1291.8 369.8V381.4M1294.8 376.1V381.5M1297.8 377.8V386.4M1299.2 381.6V397.2M1300.8 391.8V411.6M1302.2 407.0V421.9M1303.8 419.6V427.7M1312.8 368.7V379.6M1324.8 351.7V360.3M1332.2 335.2V342.0M1333.8 337.2V344.0M1335.2 336.0V341.6M1336.8 334.7V341.1M1338.2 336.9V347.7M1341.2 337.3V346.3M1342.8 341.4V350.9M1344.2 346.4V353.4M1345.8 351.2V360.8M1348.8 349.2V354.4M1349.9 350.0V481.0M1351.5 458.0V486.0" stroke="#1d120c" stroke-width="1.7"/><path d="M806.4 561V721M509.6 396V506M1182.3 343V446" stroke="#e2701c" stroke-width="1.3"/></g>
<!-- resistance thick -->
<path d="M947 286.4L1312 363.6" stroke="#e2546f" stroke-width="2" fill="none"/>
<!-- red arrow -->
<g stroke="#e8475f" stroke-width="2.1" fill="none" stroke-linecap="round" stroke-linejoin="miter">
<path d="M1309.5 329L1345.5 306L1370 362"/><path d="M1357 357L1370.5 362.5L1376 351"/>
</g>
<text transform="translate(1094.2,310.8) rotate(11.8)" font-size="13" fill="#e2546f" stroke="#e2546f" stroke-width="0.3">Resistance</text>
<text transform="translate(1109,518.2) rotate(-18.5)" font-size="13.4" fill="#7596e8" stroke="#7596e8" stroke-width="0.25">Support</text>
<g font-size="15" fill="#111" stroke="#111" stroke-width="0.15">
<text x="80.3" y="538">A</text><text x="252.3" y="109">B</text><text x="736.5" y="703">C</text><text x="1011.8" y="278.4">D</text>
</g>
<g font-size="10.9" fill="#38383c"><text x="12.3" y="65.8" textLength="62.5" lengthAdjust="spacingAndGlyphs">GBPUSD, 1h</text><text x="82.7" y="65.8" textLength="49.3" lengthAdjust="spacingAndGlyphs">O1.34130</text><text x="139.9" y="65.8" textLength="48.6" lengthAdjust="spacingAndGlyphs">H1.34175</text><text x="196.9" y="65.8" textLength="47.2" lengthAdjust="spacingAndGlyphs">L1.33812</text><text x="252.0" y="65.8" textLength="48.5" lengthAdjust="spacingAndGlyphs">C1.33884</text><text x="309.7" y="65.8" textLength="46.5" lengthAdjust="spacingAndGlyphs">−0.00246</text><text x="361.7" y="65.8" textLength="43.8" lengthAdjust="spacingAndGlyphs">(−0.18%)</text></g>
<!-- axes -->
<rect x="1539" y="50" width="55" height="744" fill="#fff"/>
<rect x="5" y="771" width="1589" height="23" fill="#fff"/>
<path d="M1538.5 50V794M5 770.5H1594" stroke="#94949a" stroke-width="1" fill="none"/>
<g font-size="10.5" fill="#2e2e32" stroke="#2e2e32" stroke-width="0.12"><text x="1546" y="60.8">1.38500</text><text x="1546" y="105.8">1.38000</text><text x="1546" y="151.8">1.37500</text><text x="1546" y="197.8">1.37000</text><text x="1546" y="243.8">1.36500</text><text x="1546" y="281.8">1.36100</text><text x="1546" y="318.8">1.35700</text><text x="1546" y="356.8">1.35300</text><text x="1546" y="394.3">1.34900</text><text x="1546" y="431.8">1.34500</text><text x="1546" y="468.8">1.34100</text><text x="1546" y="506.8">1.33700</text><text x="1546" y="535.8">1.33400</text><text x="1546" y="564.3">1.33100</text><text x="1546" y="593.3">1.32800</text><text x="1546" y="621.8">1.32500</text><text x="1546" y="650.8">1.32200</text><text x="1546" y="678.8">1.31900</text><text x="1546" y="707.8">1.31600</text><text x="1546" y="736.3">1.31300</text><text x="1546" y="761.8">1.31040</text><text x="68.0" y="785.6" text-anchor="middle">22</text><text x="141.5" y="785.6" text-anchor="middle">22:00:00</text><text x="220.5" y="785.6" text-anchor="middle" font-weight="bold">Jul</text><text x="317.0" y="785.6" text-anchor="middle">6</text><text x="395.0" y="785.6" text-anchor="middle">10</text><text x="495.0" y="785.6" text-anchor="middle">16</text><text x="594.0" y="785.6" text-anchor="middle">22</text><text x="690.5" y="785.6" text-anchor="middle">27</text><text x="793.0" y="785.6" text-anchor="middle" font-weight="bold">Aug</text><text x="892.0" y="785.6" text-anchor="middle">7</text><text x="992.0" y="785.6" text-anchor="middle">13</text><text x="1091.0" y="785.6" text-anchor="middle">19</text><text x="1187.0" y="785.6" text-anchor="middle">24</text><text x="1316.0" y="785.6" text-anchor="middle" font-weight="bold">Sep</text><text x="1415.0" y="785.6" text-anchor="middle">5</text><text x="1515.5" y="785.6" text-anchor="middle">9</text></g>
<!-- price tags -->
<rect x="1538" y="410.5" width="51" height="13.5" rx="1.5" fill="#4a4d5a"/>
<rect x="1538" y="466" width="51" height="13.5" rx="1.5" fill="#50535f"/>
<rect x="1538" y="480" width="51" height="13.5" rx="1.5" fill="#0c0c0e"/>
<g font-size="10.5" font-weight="bold" fill="#fff">
<text x="1546.2" y="421">1.34620</text><text x="1546.2" y="476.5">1.34000</text><text x="1546.2" y="490.5">1.33884</text>
</g>
<g transform="translate(708,792) scale(0.07508)" fill="#f2600f" stroke="none">
<circle cx="440" cy="435" r="412" fill="none" stroke="#f2600f" stroke-width="14"/>
<path d="M122 395 A322 322 0 0 0 700 640" fill="none" stroke="#f2600f" stroke-width="24"/>
<path d="M470 112 A322 322 0 0 1 762 450" fill="none" stroke="#f2600f" stroke-width="24"/>
<!-- bull horns -->
<path d="M180 172 C100 152 88 85 188 50" fill="none" stroke="#f2600f" stroke-width="32" stroke-linecap="round"/>
<path d="M385 150 C428 105 402 42 332 27 C300 22 280 30 265 45" fill="none" stroke="#f2600f" stroke-width="32" stroke-linecap="round"/><path d="M335 95 C290 88 240 100 205 128" fill="none" stroke="#f2600f" stroke-width="22" stroke-linecap="round"/>
<!-- bull head -->
<path d="M160 170 C210 140 290 135 390 150 C430 165 450 195 440 230 C430 300 400 350 330 380 C280 395 230 385 195 375 C150 370 100 360 88 325 C95 295 135 275 145 245 C135 215 145 190 160 170Z"/>
<!-- bull body -->
<path d="M215 360 C180 470 220 620 330 715 C420 760 560 760 690 700 C730 660 740 600 720 560 C700 480 640 440 600 470 C560 540 500 600 470 560 C440 500 520 440 570 400 C640 330 620 230 560 170 C530 140 500 120 470 112 C520 200 500 300 400 360 C330 400 300 420 290 470 L300 380Z"/>
<path d="M560 170 C640 230 670 330 650 420 L600 470 C640 380 620 260 560 170Z"/>
<!-- bear head -->
<path d="M600 470 C610 410 660 390 690 410 C715 430 715 465 745 478 C785 490 795 520 770 548 C740 560 722 562 718 590 C735 640 722 690 690 705 C640 730 580 700 560 650 C550 580 570 510 600 470Z"/>
<!-- white details -->
<g fill="#fdf6f1">
<path d="M470 200 C500 290 420 340 350 390 C320 410 310 430 312 445 C360 400 440 380 490 320 C510 280 500 230 470 200Z"/>
<path d="M545 215 C600 330 480 400 380 460 C300 510 270 570 290 660 C300 690 320 710 340 720 C300 640 320 560 400 510 C500 450 620 380 545 215Z"/>
<path d="M565 415 C500 455 440 520 475 580 C520 610 560 540 565 415Z"/>
<path d="M245 255 C270 215 330 205 360 235 C350 285 290 310 250 295 C240 285 240 270 245 255Z"/>
<path d="M110 305 C140 285 180 290 195 308 C170 330 130 330 110 305Z"/>
<path d="M165 235 C190 222 222 228 235 245 C212 260 185 256 165 235Z"/>
<path d="M190 345 C210 335 235 340 245 352 C225 365 205 362 190 345Z"/>
<path d="M215 170 C250 150 300 150 330 165 C300 175 260 180 225 195Z"/>
<path d="M380 670 C400 700 440 715 480 712 C450 690 420 680 380 640Z"/>
<path d="M510 690 C500 650 530 630 560 640 C590 660 580 700 560 720 C540 725 520 715 510 690Z"/>
<path d="M600 610 C620 588 650 588 662 600 C640 628 615 628 600 610Z"/>
<path d="M620 672 C650 672 680 652 692 630 C692 668 660 692 620 672Z"/>
<path d="M632 470 C640 430 680 420 692 440 C685 470 660 490 632 470Z"/>
<path d="M715 522 C730 502 762 502 768 520 C752 538 732 538 715 522Z"/>
<path d="M585 500 C590 470 610 450 625 455 C620 480 605 500 585 500Z"/>
</g>
<circle cx="300" cy="262" r="17"/>
</g>

<text x="782" y="839" font-size="42" font-weight="bold" fill="#141414" stroke="#141414" stroke-width="2.4" stroke-linejoin="miter" textLength="48.5" lengthAdjust="spacingAndGlyphs">FX</text>
<clipPath id="cpo"><rect x="820" y="790" width="120" height="57"/></clipPath>
<g clip-path="url(#cpo)"><text transform="translate(831.5,838.6) scale(0.85,1)" letter-spacing="-6" font-size="53" font-weight="bold" fill="#f2600f" stroke="#f2600f" stroke-width="1.4">open</text></g>
</svg>
</body></html>
